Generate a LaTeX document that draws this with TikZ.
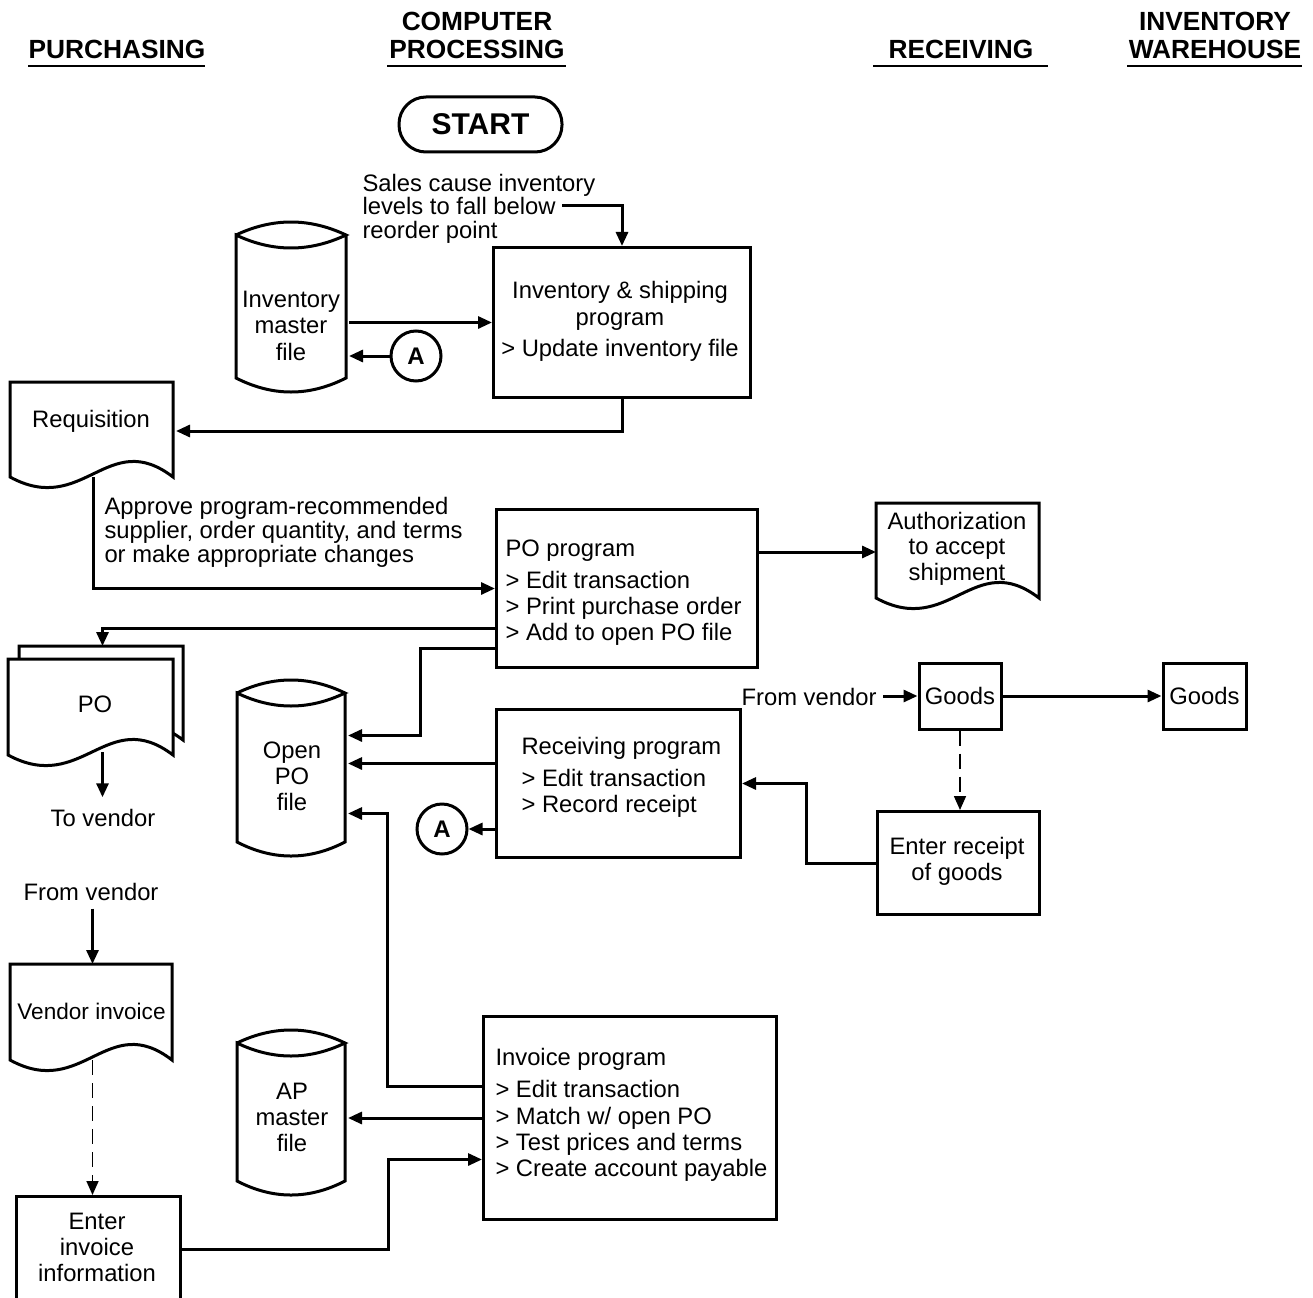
\documentclass[tikz,border=0pt]{standalone}
\usepackage{fontspec}
\setmainfont{Liberation Sans}
\usetikzlibrary{arrows.meta,calc}

% document symbol: x1, top, x2, bottom of the straight sides
\newcommand\docshape[4]{(#1,#2) -- (#3,#2) -- (#3,#4) .. controls ({#1+0.6*(#3-#1)},{#4-50}) and ({#1+0.45*(#3-#1)},{#4+40}) .. (#1,#4) -- cycle}
% disk (file) symbol: x1, top, x2, bottom
\newcommand\cylshape[4]{(#1,{#2+13}) .. controls ({#1+(#3-#1)/3},{#2-4.33}) and ({#3-(#3-#1)/3},{#2-4.33}) .. (#3,{#2+13}) .. controls ({#3-(#3-#1)/3},{#2+30.33}) and ({#1+(#3-#1)/3},{#2+30.33}) .. (#1,{#2+13}) -- (#1,{#4-14}) .. controls ({#1+(#3-#1)/3},{#4+4.67}) and ({#3-(#3-#1)/3},{#4+4.67}) .. (#3,{#4-14}) -- (#3,{#2+13})}

\begin{document}
\begin{tikzpicture}[x=1pt,y=-1pt,line width=3pt,
  arr/.style={-{Triangle[length=14pt,width=12pt]}},
  dashline/.style={line width=1.6pt,dash pattern=on 15pt off 8pt},
  bodyfont/.style={font=\fontsize{23.8}{26}\selectfont,inner sep=0pt},
  body/.style={bodyfont,yshift=-2.5pt},
  head/.style={font=\bfseries\fontsize{26.3}{28}\selectfont,inner sep=0pt,align=center},
  blk/.style={draw,rectangle,inner sep=0pt,anchor=north west},
  area/.style={rectangle,inner sep=0pt,anchor=north west},
  conn/.style={circle,draw,inner sep=0pt,minimum size=50pt,font=\bfseries\fontsize{24}{26}\selectfont},
  lane/.style={line width=2.2pt}]

\fill[white] (0,0) rectangle (1313,1297);
\useasboundingbox (0,0) rectangle (1313,1297);

% column headings
\node[head] (hpur) at (117,49) {PURCHASING};
\node[head] (hcp) at (477,35) {COMPUTER\\PROCESSING};
\node[head] (hrec) at (961,49) {RECEIVING};
\node[head] (hinv) at (1215,35) {INVENTORY\\WAREHOUSE};
\draw[lane] (28,66) -- (205,66);
\draw[lane] (387,66) -- (566,66);
\draw[lane] (873,66) -- (1048,66);
\draw[lane] (1127,66) -- (1302,66);

% start terminal
\node[draw,rounded corners=27pt,minimum width=163pt,minimum height=55pt,inner sep=0pt,
  font=\bfseries\fontsize{30}{32}\selectfont] (start) at (480.5,124.5) {START};

\node[body,align=left,anchor=west,font=\fontsize{23.8}{23.5}\selectfont] (sales) at (361,206)
  {Sales cause inventory\\levels to fall below\\reorder point};
\coordinate (salesout) at (562,206);

% inventory & shipping program
\node[blk,minimum width=257pt,minimum height=150pt] (ipg) at (492,246) {};
\node[body,align=center,font=\fontsize{23.8}{27}\selectfont] (ipgt) at (620,303.5) {Inventory \& shipping\\program};
\node[body] (ipgu) at (620,348) {> Update inventory file};

% inventory master file
\node[area,minimum width=110pt,minimum height=170pt] (imf) at (236,222) {};
\draw \cylshape{236}{222}{346}{392};
\node[body,align=center,font=\fontsize{23.8}{26.5}\selectfont] (imft) at (291,323) {Inventory\\master\\file};

\node[conn] (a1) at (416,356) {A};

% requisition
\node[area,minimum width=163pt,minimum height=95pt] (req) at (10,382) {};
\draw \docshape{10}{382}{173}{477};
\node[body] (reqt) at (91,419) {Requisition};

\node[body,align=left,anchor=west,font=\fontsize{23.8}{24}\selectfont] (appr) at (103,530)
  {Approve program-recommended\\supplier, order quantity, and terms\\or make appropriate changes};

% PO program
\node[blk,minimum width=261pt,minimum height=158pt] (po) at (495,508) {};
\node[body,anchor=west] (pot) at (504,548) {PO program};
\node[body,align=left,anchor=west] (pol) at (504,606) {> Edit transaction\\> Print purchase order\\> Add to open PO file};

% authorization to accept shipment
\node[area,minimum width=163pt,minimum height=95pt] (auth) at (876,503) {};
\draw \docshape{876}{503}{1039}{598};
\node[body,align=center,font=\fontsize{23.8}{25.5}\selectfont] (autht) at (957,546) {Authorization\\to accept\\shipment};

% purchase order copies
\node[area,minimum width=164pt,minimum height=94pt] (podb) at (19,646) {};
\draw[fill=white] \docshape{19}{646}{183}{740};
\node[area,minimum width=165pt,minimum height=96pt] (pod) at (8,659) {};
\draw[fill=white] \docshape{8}{659}{173}{755};
\node[body] (podt) at (95,702) {PO};
\node[body] (tov) at (103,815) {To vendor};

% open PO file
\node[area,minimum width=108pt,minimum height=176pt] (opo) at (237,680) {};
\draw \cylshape{237}{680}{345}{856};
\node[body,align=center] (opot) at (292,774) {Open\\PO\\file};

% receiving program
\node[blk,minimum width=244pt,minimum height=148pt] (rcv) at (495,708) {};
\node[body,anchor=west] (rcvt) at (520,746) {Receiving program};
\node[body,align=left,anchor=west] (rcvl) at (520,791) {> Edit transaction\\> Record receipt};
\node[conn] (a2) at (442,829) {A};

% receiving and warehouse
\node[body,anchor=east] (fromv) at (878,694) {From vendor};
\node[draw,bodyfont,minimum width=82pt,minimum height=66pt] (g1) at (960,696) {Goods};
\node[draw,bodyfont,minimum width=83pt,minimum height=66pt] (g2) at (1204.5,696) {Goods};
\node[blk,minimum width=162pt,minimum height=103pt] (erg) at (876,810) {};
\node[body,align=center] (ergt) at (957,859) {Enter receipt\\of goods};

% vendor invoice
\node[body] (fv2) at (91,889) {From vendor};
\node[area,minimum width=162pt,minimum height=96pt] (vinv) at (10,964) {};
\draw \docshape{10}{964}{172}{1060};
\node[body,font=\fontsize{22.6}{26}\selectfont] (vinvt) at (91.5,1009) {Vendor invoice};
\node[blk,minimum width=164pt,minimum height=106pt] (eii) at (15,1195) {};
\node[body,align=center] (eiit) at (97,1245) {Enter\\invoice\\information};

% AP master file
\node[area,minimum width=108pt,minimum height=165pt] (ap) at (237,1030) {};
\draw \cylshape{237}{1030}{345}{1195};
\node[body,align=center] (apt) at (292,1115) {AP\\master\\file};

% invoice program
\node[blk,minimum width=293pt,minimum height=203pt] (inv) at (482,1015) {};
\node[body,anchor=west] (invt) at (494,1057) {Invoice program};
\node[body,align=left,anchor=west,font=\fontsize{23.8}{26.3}\selectfont] (invl) at (494,1128.5)
  {> Edit transaction\\> Match w/ open PO\\> Test prices and terms\\> Create account payable};

% connectors
\draw[arr] (salesout) -| (ipg.north);
\draw[arr] (imf.east |- ipg.west) -- (ipg.west);
\draw[arr] (a1.west) -- (a1.west -| imf.east);
\draw[arr] (ipg.south) |- (req.east);
\draw[arr] ($(req.south)+(0,-3)$) |- (po.west);
\draw[arr] (po.east |- auth.west) -- (auth.west);
\draw[arr] ($(po.west)+(0,40)$) -| (podb.north);
\draw[arr] ($(podb.south |- pod.south)+(0,-6)$) -- ($(podb.south |- tov.north)+(0,-10)$);
\draw[arr] ($(po.west)+(0,60)$) -- ++(-75,0) |- ($(opo.east)+(0,-34)$);
\draw[arr] ($(rcv.west)+(0,-20)$) -- ($(opo.east)+(0,-6)$);
\draw[arr] (rcv.west |- a2.east) -- (a2.east);
\draw[arr] ($(fromv.east |- g1.west)+(5,0)$) -- (g1.west);
\draw[arr] (g1.east) -- (g2.west);
\draw[arr,dashline] (g1.south) -- (g1.south |- erg.north);
\draw[arr] (erg.west) -- ++(-70,0) |- (rcv.east);
\draw[arr] ($(vinv.north |- fv2.south)+(0,7)$) -- (vinv.north);
\draw[arr,dashline] ($(vinv.south)+(0,-3)$) -- (vinv.south |- eii.north);
\draw[arr] (eii.east) -- ++(206,0) |- ($(inv.west)+(0,41.5)$);
\draw[arr] ($(inv.west)+(0,-31.5)$) -- ++(-95,0) |- ($(opo.east)+(0,44)$);
\draw[arr] (inv.west) -- (inv.west -| ap.east);
\end{tikzpicture}
\end{document}
